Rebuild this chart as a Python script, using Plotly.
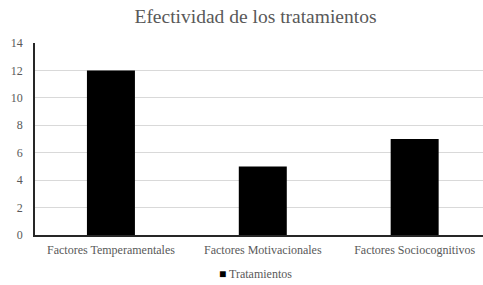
import plotly.graph_objects as go

categories = ["Factores Temperamentales", "Factores Motivacionales", "Factores Sociocognitivos"]
values = [12, 5, 7]
series_name = "Tratamientos"
y_ticks = [0, 2, 4, 6, 8, 10, 12, 14]

font_family = "Liberation Serif, Times New Roman, serif"
gray = "#595959"

W, H = 483, 285
L, R, T, B = 35, 0, 43, 50
plot_w = W - L - R
plot_h = H - T - B

fig = go.Figure()
fig.add_trace(go.Bar(
    x=categories, y=values, name=series_name,
    marker=dict(color="#000000", line=dict(width=0)),
    width=0.316, showlegend=False,
))

fig.update_layout(
    width=W, height=H,
    margin=dict(l=L, r=R, t=T, b=B, autoexpand=False),
    paper_bgcolor="white", plot_bgcolor="white",
    font=dict(family=font_family, color=gray, size=12),
    title=dict(text="Efectividad de los tratamientos", x=255.5 / W, xanchor="center",
               y=1 - 16 / H, yanchor="middle", xref="container", yref="container",
               font=dict(family=font_family, size=19.5, color=gray)),
    showlegend=False,
    annotations=[dict(
        text="<span style='color:#000000'>■</span> " + series_name,
        x=(255.5 - L) / plot_w, y=(H - B - 274) / plot_h,
        xref="paper", yref="paper", xanchor="center", yanchor="middle",
        showarrow=False, font=dict(family=font_family, size=12, color=gray),
    )],
)

fig.update_xaxes(
    range=[-0.5, 2.45], showline=True, linecolor="#262626", linewidth=1.5,
    showgrid=False, ticks="", automargin=False, ticklabelstandoff=3,
    tickfont=dict(family=font_family, size=12, color=gray),
)
fig.update_yaxes(
    range=[0, 14], tickvals=y_ticks, showline=True, linecolor="#262626", linewidth=1.5,
    showgrid=True, gridcolor="#d9d9d9", gridwidth=1, ticks="", zeroline=False,
    automargin=False, ticklabelstandoff=8,
    tickfont=dict(family=font_family, size=12, color=gray),
)

fig.write_html("out.html", post_script="document.body.style.margin='0';",
               config={"displayModeBar": False})
